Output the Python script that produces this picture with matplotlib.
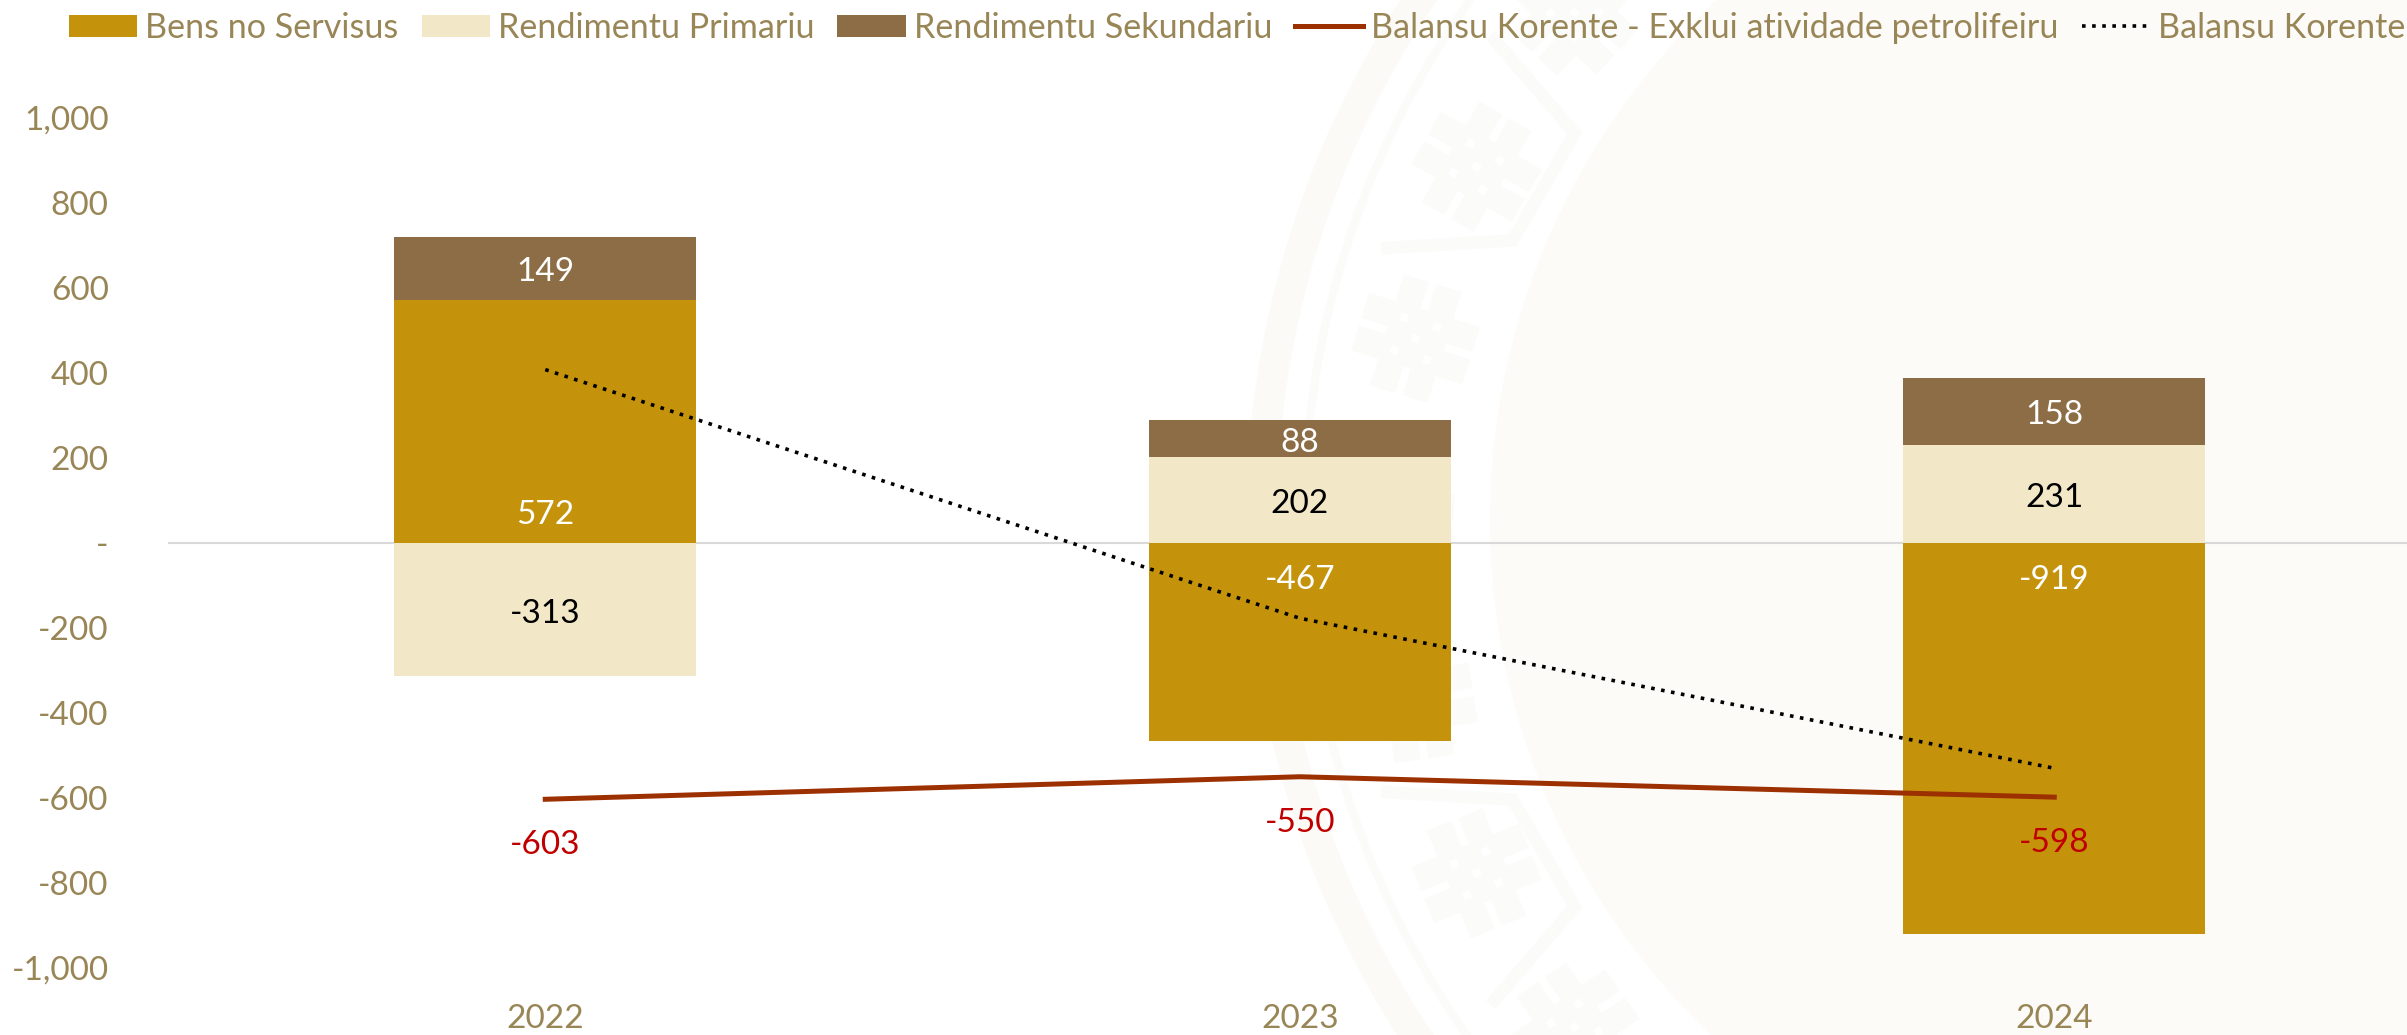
import numpy as np
import matplotlib
matplotlib.use('Agg')
import matplotlib.pyplot as plt
from matplotlib.patches import Circle, Rectangle
from matplotlib.transforms import Affine2D

plt.rcParams['font.family'] = ['Lato', 'DejaVu Sans']

years = ['2022', '2023', '2024']
bens = [572, -467, -919]
primariu = [-313, 202, 231]
sekundariu = [149, 88, 158]
exklui = [-603, -550, -598]
korente = [408, -177, -530]

TEXT = '#998657'
W, H = 2407, 1035
fig = plt.figure(figsize=(W / 100, H / 100), dpi=100, facecolor='white')

# faint watermark behind the chart, in pixel coordinates
bg = fig.add_axes([0, 0, 1, 1], zorder=0)
bg.set_xlim(0, W)
bg.set_ylim(H, 0)
bg.axis('off')
cx, cy = 2201, 520
MARK = '#FBFBF9'
bg.add_patch(Circle((cx, cy), 711, fc='#FDFBF8', ec='none'))
bg.add_patch(Circle((cx, cy), 939.5, fc='none', ec='#FCFAF7', lw=22))
bg.add_patch(Circle((cx, cy), 897, fc='none', ec=MARK, lw=5.8))


def polar(r, a):
    a = np.radians(a)
    return cx - r * np.cos(a), cy - r * np.sin(a)


# woven knots around the ring
for a in range(-39, 40, 13):
    x, y = polar(806, a)
    rot = Affine2D().rotate_deg_around(x, y, a + 4) + bg.transData
    for off in (-17, 17):
        bg.add_patch(Rectangle((x - 58, y + off - 13), 116, 26, fc=MARK, ec='none', transform=rot))
        bg.add_patch(Rectangle((x + off - 13, y - 58), 26, 116, fc=MARK, ec='none', transform=rot))
    for ox in (-17, 17):
        for oy in (-17, 17):
            bg.add_patch(Rectangle((x + ox - 4, y + oy - 4), 8, 8, fc='white', ec='none', transform=rot))

# hooks between the knots, mirrored about the centre
for sign in (1, -1):
    for start in (0, 26):
        pts = [polar(858, sign * (18.5 + start)), polar(743, sign * (22.1 + start)),
               polar(736, sign * (31.7 + start)), polar(854, sign * (34.2 + start))]
        bg.plot(*zip(*pts), color=MARK, lw=9, solid_joinstyle='miter')
bg.set_xlim(0, W)
bg.set_ylim(H, 0)

left, right, top, bottom = 168, 2407, 118, 968
ax = fig.add_axes([left / W, 1 - bottom / H, (right - left) / W, (bottom - top) / H], zorder=1)
ax.patch.set_alpha(0)

xs = list(range(len(years)))
width = 302 / 754.5


def stack_base(series, below):
    base = []
    for i, v in enumerate(series):
        b = 0
        for other in below:
            if (other[i] > 0) == (v > 0):
                b += other[i]
        base.append(b)
    return base


b1 = ax.bar(xs, bens, width, color='#C4930B', label='Bens no Servisus')
b2 = ax.bar(xs, primariu, width, bottom=stack_base(primariu, [bens]),
            color='#F2E7C7', label='Rendimentu Primariu')
b3 = ax.bar(xs, sekundariu, width, bottom=stack_base(sekundariu, [bens, primariu]),
            color='#8C6D46', label='Rendimentu Sekundariu')
l1, = ax.plot(xs, exklui, color='#9C3000', lw=3.6, label='Balansu Korente - Exklui atividade petrolifeiru')
l2, = ax.plot(xs, korente, color='black', lw=2.6, ls=(0, (1, 1.8)), label='Balansu Korente')

for bars, vals, col in [(b2, primariu, 'black'), (b3, sekundariu, 'white')]:
    for rect, v in zip(bars, vals):
        ax.annotate(str(v), (rect.get_x() + rect.get_width() / 2, rect.get_y() + rect.get_height() / 2),
                    xytext=(0, -3), textcoords='offset points',
                    ha='center', va='center', color=col, fontsize=24)
for x, v in zip(xs, bens):
    ax.annotate(str(v), (x, 0), xytext=(0, 20 if v > 0 else -26.5), textcoords='offset points',
                ha='center', va='center', color='white', fontsize=24)
for x, v in zip(xs, exklui):
    ax.annotate(str(v), (x, v), xytext=(0, -33), textcoords='offset points',
                ha='center', va='center', color='#C00000', fontsize=24)

ax.set_xlim(-0.5, 2.4675)
ax.set_ylim(-1000, 1000)
ticks = list(range(-1000, 1001, 200))
ax.set_yticks(ticks)
ax.set_yticklabels(['-' if t == 0 else f'{t:,}' for t in ticks])
ax.set_xticks(xs)
ax.set_xticklabels(years)
ax.tick_params(length=0, labelsize=24, colors=TEXT)
ax.tick_params(axis='y', pad=42.7)
ax.tick_params(axis='x', pad=26)
for s in ax.spines.values():
    s.set_visible(False)
ax.axhline(0, color='#D9D9D9', lw=1.5, zorder=0.5)

fig.legend([b1, b2, b3, l1, l2], [h.get_label() for h in (b1, b2, b3, l1, l2)],
           loc='upper left', bbox_to_anchor=(69 / W, 1 - 12 / H), ncol=5, frameon=False,
           fontsize=24.6, labelcolor=TEXT, handlelength=2.0, handleheight=0.62,
           handletextpad=0.235, columnspacing=0.67, borderpad=0, borderaxespad=0)

fig.savefig('out.png', dpi=100)
